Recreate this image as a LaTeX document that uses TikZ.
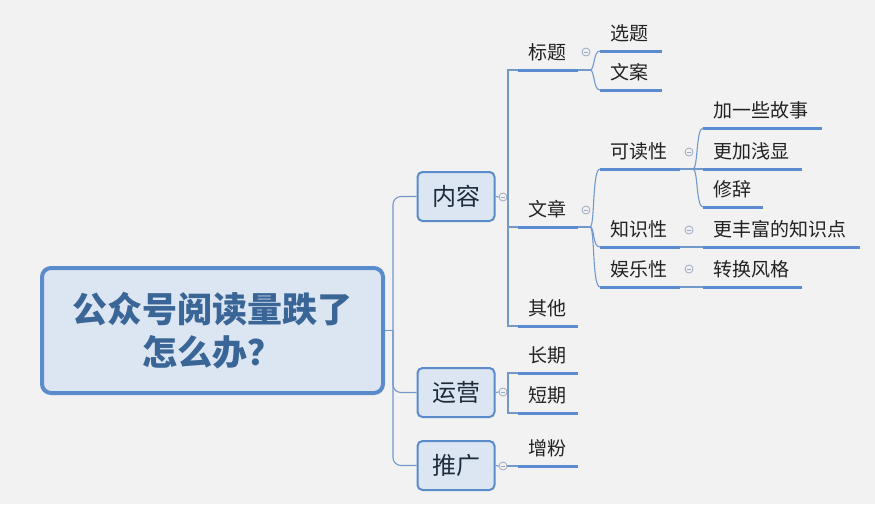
\documentclass[tikz,border=0pt]{standalone}
\usepackage{fontspec}
\setmainfont{Noto Sans CJK SC}
\usetikzlibrary{calc}
\definecolor{bg}{HTML}{F2F2F2}
\definecolor{boxfill}{HTML}{DCE6F2}
\definecolor{mainborder}{HTML}{5A8BCB}
\definecolor{maintext}{HTML}{3A6597}
\definecolor{lineblue}{HTML}{5B8BD0}
\definecolor{connc}{HTML}{7398CC}
\definecolor{togc}{HTML}{9AAAC4}
\definecolor{leafc}{HTML}{222222}
\definecolor{l1text}{HTML}{1F2A3A}
\begin{document}
\begin{tikzpicture}[x=1pt,y=-1pt,
  central/.style={draw=mainborder, line width=4pt, fill=boxfill, rounded corners=9pt,
    minimum width=341pt, minimum height=125pt, align=center, text=maintext,
    font=\fontsize{35}{43}\selectfont\bfseries},
  lone/.style={draw=mainborder, line width=2pt, fill=boxfill, rounded corners=5pt,
    minimum width=77pt, minimum height=49pt, inner sep=0pt, text=l1text,
    font=\fontsize{24}{28}\selectfont},
  leaf/.style={anchor=south west, inner xsep=10pt, inner ysep=0pt, text height=14pt,
    text depth=10pt, align=left, text=leafc, font=\fontsize{19}{22}\selectfont},
  uline/.style={draw=lineblue, line width=3pt},
  conn/.style={draw=connc, line width=1.1pt},
  tog/.style={circle, draw=togc, line width=0.8pt, fill=bg, minimum size=8pt, inner sep=0pt,
    path picture={\draw[togc, line width=0.8pt] ($(path picture bounding box.center)+(-2.2,0)$) -- ++(4.4,0);}}
]
\useasboundingbox[fill=bg] (0,0) rectangle (875,504);

% central and level-1 nodes
\node[central] (c) at (212.5,330.5) {公众号阅读量跌了\\怎么办？};
\node[lone] (nr) at (456,196.5) {内容};
\node[lone] (yy) at (456,392.5) {运营};
\node[lone] (tg) at (456,465.5) {推广};

% leaves
\node[leaf, text width=40pt] (bt) at (518,70) {标题};
\node[leaf, text width=40pt] (wz) at (518,227) {文章};
\node[leaf, text width=40pt] (qt) at (518,326) {其他};
\node[leaf, text width=40pt] (cq) at (518,373) {长期};
\node[leaf, text width=40pt] (dq) at (518,413) {短期};
\node[leaf, text width=40pt] (zf) at (518,466) {增粉};
\node[leaf, text width=42pt] (xt) at (600,51) {选题};
\node[leaf, text width=42pt] (wa) at (600,90) {文案};
\node[leaf, text width=60pt] (kd) at (600,169) {可读性};
\node[leaf, text width=60pt] (zs) at (600,247) {知识性};
\node[leaf, text width=60pt] (yl) at (600,287) {娱乐性};
\node[leaf, text width=99pt] (js) at (703,128) {加一些故事};
\node[leaf, text width=79pt] (gx) at (703,169) {更加浅显};
\node[leaf, text width=40pt] (xc) at (703,207) {修辞};
\node[leaf, text width=137pt] (ff) at (703,247) {更丰富的知识点};
\node[leaf, text width=79pt] (zh) at (703,287) {转换风格};

% underlines
\foreach \n in {bt,wz,qt,cq,dq,zf,xt,wa,kd,zs,yl,js,gx,xc,ff,zh}
  \draw[uline] (\n.south west) -- (\n.south east);

% collapse toggles
\node[tog] (t1) at (503,197) {};
\node[tog] (t2) at (503,392) {};
\node[tog] (t3) at (503,466) {};
\node[tog] (t4) at (586,52) {};
\node[tog] (t5) at (586,210) {};
\node[tog] (t6) at (689,152) {};
\node[tog] (t7) at (689,230) {};
\node[tog] (t8) at (689,269) {};

% central trunk
\coordinate (trunk) at (393,330.5);
\draw[conn] (c.east) -- (trunk);
\draw[conn, rounded corners=8pt] (nr.west) -| (trunk) |- (tg.west);
\draw[conn, rounded corners=8pt] (trunk) |- (yy.west);

% content branch
\coordinate (k1) at (508,197);
\draw[conn] (nr.east) -- (t1.west);
\draw[conn] (t1.east) -- (k1);
\draw[conn] (bt.south west) -| (k1) |- (qt.south west);
\draw[conn] (wz.south west) -- (k1 |- wz.south west);

% operation branch
\coordinate (k2) at (508,392);
\draw[conn] (yy.east) -- (t2.west);
\draw[conn] (t2.east) -- (k2);
\draw[conn] (cq.south west) -| (k2) |- (dq.south west);

% promotion branch
\draw[conn] (tg.east) -- (t3.west);
\draw[conn] (t3.east) -- (zf.south west);

% title children
\coordinate (b1) at (590,70);
\draw[conn] (bt.south east) -- (b1);
\draw[conn] (b1) .. controls +(5,0) and +(-7,0) .. (xt.south west);
\draw[conn] (b1) .. controls +(5,0) and +(-7,0) .. (wa.south west);

% article children
\coordinate (b2) at (590,227);
\draw[conn] (wz.south east) -- (b2);
\draw[conn] (b2) .. controls +(5,0) and +(-8,0) .. (kd.south west);
\draw[conn] (b2) .. controls +(5,0) and +(-8,0) .. (zs.south west);
\draw[conn] (b2) .. controls +(5,0) and +(-8,0) .. (yl.south west);

% readability children
\coordinate (b3) at (693,169);
\draw[conn] (kd.south east) -- (gx.south west);
\draw[conn] (b3) .. controls +(5,0) and +(-7,0) .. (js.south west);
\draw[conn] (b3) .. controls +(5,0) and +(-7,0) .. (xc.south west);

% knowledge / entertainment children
\draw[conn] (zs.south east) -- (ff.south west);
\draw[conn] (yl.south east) -- (zh.south west);
\end{tikzpicture}
\end{document}
